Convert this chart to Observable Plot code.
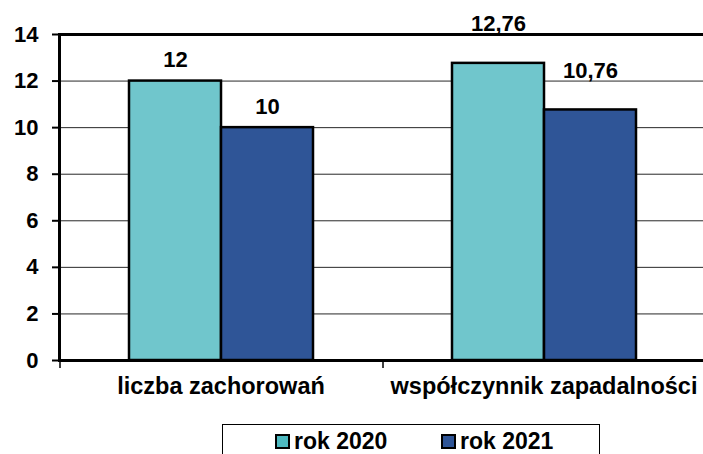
<!DOCTYPE html>
<html>
<head>
<meta charset="utf-8">
<script src="https://cdn.jsdelivr.net/npm/d3@7"></script>
<script src="https://cdn.jsdelivr.net/npm/@observablehq/plot@0.6"></script>
<style>
  html, body { margin: 0; padding: 0; background: #fff; }
  body { width: 703px; height: 454px; overflow: hidden; position: relative; font-family: "Liberation Sans", Arial, sans-serif; }
  #legend { position: absolute; left: 222px; top: 424px; width: 378px; height: 60px; border: 1px solid #000; box-sizing: border-box; font-weight: bold; font-size: 23px; }
  .item { position: absolute; top: 3px; display: flex; align-items: center; }
  .sw { width: 11px; height: 11px; border: 2px solid #000; margin-right: 4px; }
</style>
</head>
<body>
<div id="chart"></div>
<div id="legend"></div>
<script>
const categories = ["liczba zachorowań", "współczynnik zapadalności"];
const series = ["rok 2020", "rok 2021"];
const values2020 = [12, 12.76];
const values2021 = [10, 10.76];
const yTicks = [0, 2, 4, 6, 8, 10, 12, 14];
const colors = ["#70C6CC", "#2F5597"];

const data = [];
categories.forEach((c, i) => {
  data.push({category: c, series: series[0], value: values2020[i]});
  data.push({category: c, series: series[1], value: values2021[i]});
});
const fmt = d => String(d).replace(".", ",");
const font = {fontFamily: "Liberation Sans, Arial, sans-serif", fontWeight: "bold", fontSize: 22};

const chart = Plot.plot({
  width: 703,
  height: 415,
  marginLeft: 59,
  marginRight: -2,
  marginTop: 34,
  marginBottom: 55,
  style: {fontFamily: "Liberation Sans, Arial, sans-serif", fontSize: "22px", fontWeight: "bold", color: "#000", background: "#fff", overflow: "hidden"},
  fx: {domain: categories, padding: 0, label: null},
  x: {domain: series, paddingInner: 0, paddingOuter: 0.74, axis: null},
  y: {domain: [0, 14], ticks: yTicks, label: null},
  color: {domain: series, range: colors},
  marks: [
    Plot.ruleY(yTicks.filter(t => t > 0 && t < 14), {stroke: "#000", strokeWidth: 1, strokeOpacity: 0.85}),
    Plot.barY(data, {fx: "category", x: "series", y: "value", fill: "series", stroke: "#000", strokeWidth: 2.5}),
    Plot.ruleY([14], {stroke: "#000", strokeWidth: 3}),
    Plot.ruleY([0], {stroke: "#000", strokeWidth: 3}),
    Plot.text(data.filter(d => d.category === categories[0]), {fx: "category", x: "series", y: "value", text: d => fmt(d.value), dy: -21, lineAnchor: "middle", ...font}),
    Plot.text(data.filter(d => d.category === categories[1]), {fx: "category", x: "series", y: "value", text: d => fmt(d.value), dy: -39, lineAnchor: "middle", ...font}),
    Plot.axisY({ticks: yTicks, tickSize: 7, tickPadding: 14, strokeWidth: 2, fontSize: 22, fontWeight: "bold"}),
    Plot.frame({anchor: "left", stroke: "#000", strokeWidth: 3, facet: "super"}),
    Plot.axisFx({anchor: "bottom", tickSize: 0, tickPadding: 17, fontSize: 23.5, fontWeight: "bold", lineAnchor: "top"}),
    Plot.axisFx({anchor: "bottom", tickSize: 8, tickFormat: () => "", dx: -161, strokeWidth: 1.5})
  ]
});
document.getElementById("chart").appendChild(chart);

const legend = document.getElementById("legend");
const lx = [52, 218];
series.forEach((s, i) => {
  const it = document.createElement("div");
  it.className = "item";
  it.style.left = lx[i] + "px";
  const sw = document.createElement("div");
  sw.className = "sw";
  sw.style.background = i === 0 ? "#4DB9C0" : colors[1];
  const t = document.createElement("span");
  t.textContent = s;
  it.appendChild(sw);
  it.appendChild(t);
  legend.appendChild(it);
});
</script>
</body>
</html>
